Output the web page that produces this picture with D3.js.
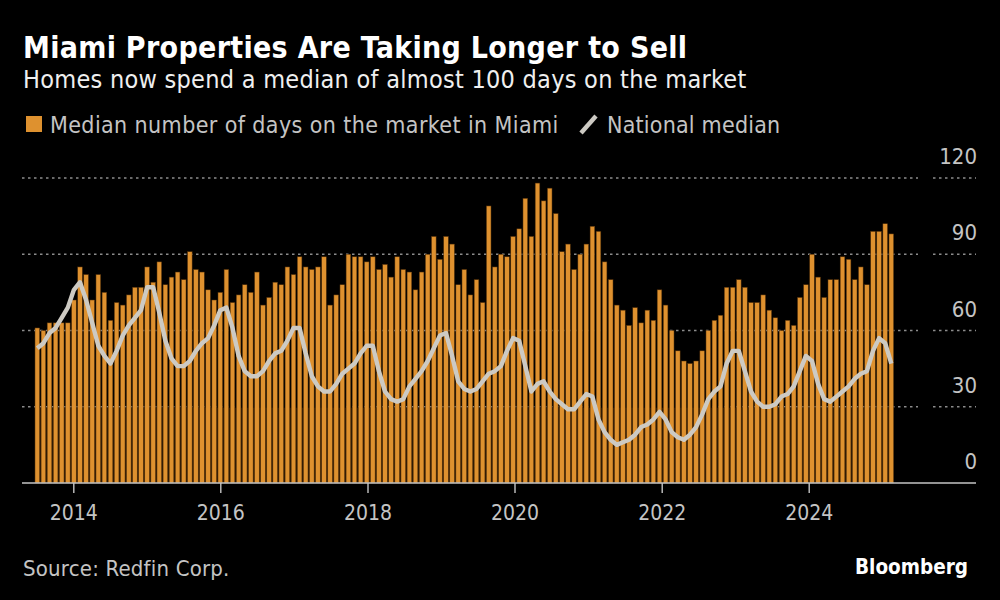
<!DOCTYPE html>
<html>
<head>
<meta charset="utf-8">
<script src="https://cdn.jsdelivr.net/npm/d3@7"></script>
<style>
  html, body { margin: 0; padding: 0; background: #000; }
  text { font-family: "DejaVu Sans", sans-serif; font-stretch: condensed; }
</style>
</head>
<body>
<div id="canvas"></div>
<script>
"use strict"

/* values, one per month from July 2013 */
const miamiDays = [
    61, 60, 63, 63, 63, 63, 72, 85, 82, 72, 82, 75, 64, 71, 70, 74, 77, 77, 85, 79, 87, 78, 81, 83,
    80, 91, 84, 83, 76, 72, 75, 84, 71, 74, 78, 75, 83, 70, 73, 79, 78, 85, 82, 89, 85, 84, 85, 89,
    70, 74, 78, 90, 89, 89, 87, 89, 84, 86, 81, 89, 84, 83, 76, 83, 90, 97, 88, 97, 94, 78, 84, 74,
    80, 71, 109, 85, 90, 89, 97, 100, 112, 97, 118, 111, 116, 106, 91, 94, 84, 90, 94, 101, 99, 87, 80, 70,
    68, 62, 69, 63, 68, 64, 76, 70, 60, 52, 48, 47, 48, 52, 60, 64, 66, 77, 77, 80, 77, 71, 71, 74,
    68, 65, 60, 64, 62, 73, 78, 90, 81, 73, 80, 80, 89, 88, 80, 85, 78, 99, 99, 102, 98
];

const nationalDays = [
    53, 55, 59, 61, 65, 69, 76, 79, 72, 63, 54, 50, 47, 52, 58, 62, 65, 68, 77, 77, 67, 56, 49, 46,
    46, 48, 52, 55, 57, 62, 68, 69, 61, 50, 44, 42, 42, 44, 48, 51, 52, 56, 61, 61, 51, 42, 38, 36,
    36, 39, 43, 45, 47, 51, 54, 54, 44, 36, 33, 32, 33, 38, 41, 44, 48, 53, 58, 59, 50, 40, 37, 36,
    37, 40, 43, 44, 46, 52, 57, 56, 46, 36, 39, 40, 36, 33, 31, 29, 29, 32, 35, 34, 25, 20, 17, 15,
    16, 17, 19, 22, 23, 25, 28, 25, 20, 18, 17, 19, 22, 27, 33, 36, 38, 47, 52, 52, 44, 36, 32, 30,
    30, 31, 34, 35, 38, 44, 50, 48, 39, 33, 32, 34, 36, 38, 41, 43, 44, 52, 57, 55, 47
];

const yTicks = [0, 30, 60, 90, 120];
const yearTicks = [2014, 2016, 2018, 2020, 2022, 2024];

/* canvas */
let drawing = d3.select("#canvas")
    .append("svg")
    .attr("width", 1000)
    .attr("height", 600)
    .style("display", "block");

drawing.append("rect")
    .attr("width", 1000)
    .attr("height", 600)
    .attr("fill", "#000");

/* scales */
const monthIndex = miamiDays.map((d, i) => i);

let x = d3.scaleBand()
    .domain(monthIndex)
    .range([34.25, 894.35])
    .paddingInner(0.24)
    .paddingOuter(0.12);

let xYears = d3.scaleTime()
    .domain([new Date(2014, 0, 1), new Date(2024, 0, 1)])
    .range([73.3, 808.7]);

let y = d3.scaleLinear()
    .domain([0, 120])
    .range([483, 178]);

/* gridlines, broken just before the value labels */
let gridTicks = yTicks.filter(d => d > 0);

drawing.append("g")
    .selectAll("line")
    .data(gridTicks)
    .join("line")
    .attr("x1", 22)
    .attr("x2", 918)
    .attr("y1", d => y(d))
    .attr("y2", d => y(d))
    .attr("stroke", "#8c8c8c")
    .attr("stroke-width", 1.4)
    .attr("stroke-dasharray", "2.5 3.5");

drawing.append("g")
    .selectAll("line")
    .data(gridTicks)
    .join("line")
    .attr("x1", 933)
    .attr("x2", 976)
    .attr("y1", d => y(d))
    .attr("y2", d => y(d))
    .attr("stroke", "#8c8c8c")
    .attr("stroke-width", 1.4)
    .attr("stroke-dasharray", "2.5 3.5");

/* dim backing so the gaps between bars read dark brown */
drawing.append("rect")
    .attr("x", x(0))
    .attr("width", x(monthIndex.length - 1) + x.bandwidth() - x(0))
    .attr("y", y(30) + 1)
    .attr("height", y(0) - y(30) - 1)
    .attr("fill", "#2c1905");

/* Miami bars */
drawing.append("g")
    .selectAll("rect")
    .data(miamiDays)
    .join("rect")
    .attr("x", (d, i) => x(i))
    .attr("width", x.bandwidth())
    .attr("y", d => y(d))
    .attr("height", d => y(0) - y(d))
    .attr("fill", "#de912f")
    .attr("stroke", "#4e2d08")
    .attr("stroke-width", 0.5);

/* national median line */
let nationalLine = d3.line()
    .x((d, i) => x(i) + x.bandwidth() / 2)
    .y(d => y(d));

drawing.append("path")
    .datum(nationalDays)
    .attr("d", nationalLine)
    .attr("fill", "none")
    .attr("stroke", "#cdcac3")
    .attr("stroke-width", 4.4)
    .attr("stroke-linejoin", "round");

/* axis along the bottom */
let xAxis = d3.axisBottom(xYears)
    .tickValues(yearTicks.map(d => new Date(d, 0, 1)))
    .tickFormat(d3.timeFormat("%Y"))
    .tickSize(10)
    .tickPadding(12);

let xAxisGroup = drawing.append("g")
    .attr("transform", "translate(0,483)")
    .call(xAxis);

xAxisGroup.select(".domain").remove();
xAxisGroup.selectAll("line")
    .attr("stroke", "#c4c4c4")
    .attr("stroke-width", 1.4);
xAxisGroup.selectAll("text")
    .attr("fill", "#c4c4c4")
    .attr("font-size", 21)
    .style("font-family", '"DejaVu Sans", sans-serif')
    .style("font-stretch", "condensed");

drawing.append("line")
    .attr("x1", 22)
    .attr("x2", 976)
    .attr("y1", 483)
    .attr("y2", 483)
    .attr("stroke", "#c4c4c4")
    .attr("stroke-width", 1.6);

/* value labels sit above their gridlines */
drawing.append("g")
    .selectAll("text")
    .data(yTicks)
    .join("text")
    .attr("x", 977)
    .attr("y", d => y(d) - 14)
    .attr("text-anchor", "end")
    .attr("fill", "#c4c4c4")
    .attr("font-size", 22)
    .text(d => d);

/* title block */
drawing.append("text")
    .attr("x", 23)
    .attr("y", 58)
    .attr("fill", "#fff")
    .attr("font-size", 30)
    .attr("font-weight", "bold")
    .attr("letter-spacing", 0.3)
    .text("Miami Properties Are Taking Longer to Sell");

drawing.append("text")
    .attr("x", 23)
    .attr("y", 88)
    .attr("fill", "#efefef")
    .attr("font-size", 25)
    .attr("letter-spacing", 0.27)
    .text("Homes now spend a median of almost 100 days on the market");

/* legend */
drawing.append("rect")
    .attr("x", 26)
    .attr("y", 116)
    .attr("width", 16)
    .attr("height", 16)
    .attr("fill", "#de912f");

drawing.append("text")
    .attr("x", 50)
    .attr("y", 133)
    .attr("fill", "#c4c4c4")
    .attr("font-size", 23)
    .attr("letter-spacing", 0.39)
    .text("Median number of days on the market in Miami");

drawing.append("line")
    .attr("x1", 581)
    .attr("y1", 133)
    .attr("x2", 596)
    .attr("y2", 116)
    .attr("stroke", "#cdcac3")
    .attr("stroke-width", 4.4);

drawing.append("text")
    .attr("x", 607)
    .attr("y", 133)
    .attr("fill", "#c4c4c4")
    .attr("font-size", 23)
    .attr("letter-spacing", 0.2)
    .text("National median");

/* footer */
drawing.append("text")
    .attr("x", 23)
    .attr("y", 576)
    .attr("fill", "#c4c4c4")
    .attr("font-size", 22)
    .attr("letter-spacing", 0.2)
    .text("Source: Redfin Corp.");

drawing.append("text")
    .attr("x", 968)
    .attr("y", 574)
    .attr("text-anchor", "end")
    .attr("fill", "#fff")
    .attr("font-size", 20.5)
    .attr("font-weight", "bold")
    .text("Bloomberg");
</script>
</body>
</html>
